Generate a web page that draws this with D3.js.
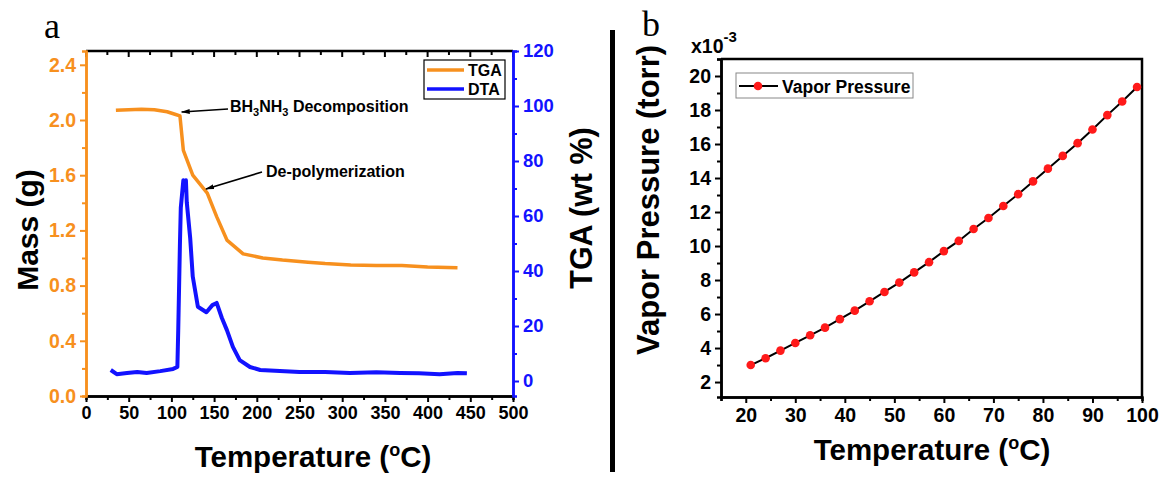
<!DOCTYPE html>
<html>
<head>
<meta charset="utf-8">
<script src="https://cdn.jsdelivr.net/npm/d3@7"></script>
<style>
  body { margin: 0; background: #fff; }
  text { font-family: "Liberation Sans", Arial, sans-serif; font-weight: bold; }
</style>
</head>
<body>
<div id="chart"></div>
<script>
// ---- data: panel a (TGA / DTA) ----
const tgaTemp = [35, 50, 65, 80, 95, 105, 110, 114, 125, 142, 153, 165, 184, 207, 230, 260, 280, 310, 340, 370, 400, 435];
const tgaMass = [2.07, 2.075, 2.078, 2.075, 2.06, 2.04, 2.03, 1.78, 1.6, 1.47, 1.3, 1.13, 1.03, 1.0, 0.985, 0.97, 0.96, 0.95, 0.945, 0.945, 0.935, 0.93];

const dtaTemp = [29, 36, 48, 60, 71, 87, 102, 107, 108, 110, 111, 114, 115.5, 117, 118, 122, 125, 131, 141, 148, 153, 159, 165, 172, 180, 192, 204, 227, 250, 280, 309, 340, 368, 390, 414, 435, 446];
const dtaVal  = [4.0, 2.5, 2.9, 3.3, 2.9, 3.6, 4.4, 5.1, 18.5, 50, 63, 73, 70, 73, 65, 52, 38, 27, 25, 27.6, 28.4, 23, 18.5, 12.4, 7.6, 5.1, 4.0, 3.6, 3.3, 3.3, 2.9, 3.2, 2.9, 2.8, 2.5, 2.9, 2.8];

const aXTicks = d3.range(0, 501, 50);
const aLeftTicks = [0, 0.4, 0.8, 1.2, 1.6, 2.0, 2.4];
const aRightTicks = [0, 20, 40, 60, 80, 100, 120];

// ---- data: panel b (vapor pressure, x10^-3 torr) ----
const vpTemp = [21, 24, 27, 30, 33, 36, 39, 42, 45, 48, 51, 54, 57, 60, 63, 66, 69, 72, 75, 78, 81, 84, 87, 90, 93, 96, 99];
const vpVal  = [3.0, 3.4, 3.85, 4.3, 4.75, 5.2, 5.7, 6.2, 6.75, 7.3, 7.85, 8.45, 9.05, 9.7, 10.3, 11.0, 11.65, 12.35, 13.05, 13.8, 14.55, 15.3, 16.05, 16.85, 17.7, 18.5, 19.35];
const bXTicks = [20, 30, 40, 50, 60, 70, 80, 90, 100];
const bYTicks = [2, 4, 6, 8, 10, 12, 14, 16, 18, 20];

const W = 1163, H = 477;
const orange = "#f7901e", blue = "#1212ff";

const svg = d3.select("#chart").append("svg")
    .attr("width", W)
    .attr("height", H);

// styling helper for axis groups
function styleAxis(g, color, fontSize) {
    g.select(".domain").attr("stroke", color).attr("stroke-width", 2.5);
    g.selectAll(".tick line").attr("stroke", color).attr("stroke-width", 2);
    g.selectAll(".tick text").attr("fill", color)
        .style("font-size", fontSize + "px")
        .style("font-family", "'Liberation Sans', Arial, sans-serif")
        .style("font-weight", "bold");
}

// ================= panel a =================
const ax = d3.scaleLinear().domain([0, 500]).range([86, 513]);
const ayL = d3.scaleLinear().domain([0, 2.5]).range([396, 51]);
const ayR = d3.scaleLinear().domain([-5.45, 120]).range([396, 51]);

// top frame with inward ticks
svg.append("line").attr("x1", 86).attr("x2", 513).attr("y1", 51).attr("y2", 51)
    .attr("stroke", "#000").attr("stroke-width", 2.5);
svg.append("g").selectAll("line")
    .data(d3.range(0, 501, 25))
    .join("line")
    .attr("x1", d => ax(d)).attr("x2", d => ax(d))
    .attr("y1", 51).attr("y2", d => d % 50 === 0 ? 57 : 55)
    .attr("stroke", "#000").attr("stroke-width", 2);

// bottom axis
const gxa = svg.append("g").attr("transform", "translate(0,396)");
gxa.call(d3.axisBottom(ax).tickValues(d3.range(25, 500, 50)).tickSize(4).tickFormat(""));
styleAxis(gxa, "#000", 18);
const gxa2 = svg.append("g").attr("transform", "translate(0,396)");
gxa2.call(d3.axisBottom(ax).tickValues(aXTicks).tickSize(6).tickPadding(4).tickSizeOuter(0));
styleAxis(gxa2, "#000", 18);

// left axis (orange)
const gyl = svg.append("g").attr("transform", "translate(86,0)");
gyl.call(d3.axisLeft(ayL).tickValues(d3.range(0.2, 2.5, 0.4)).tickSize(4).tickFormat(""));
styleAxis(gyl, orange, 19.5);
const gyl2 = svg.append("g").attr("transform", "translate(86,0)");
gyl2.call(d3.axisLeft(ayL).tickValues(aLeftTicks).tickSize(6).tickPadding(4).tickSizeOuter(0).tickFormat(d3.format(".1f")));
styleAxis(gyl2, orange, 19.5);

// right axis (blue)
const gyr = svg.append("g").attr("transform", "translate(513,0)");
gyr.call(d3.axisRight(ayR).tickValues(d3.range(10, 120, 20)).tickSize(4).tickFormat(""));
styleAxis(gyr, blue, 18.5);
const gyr2 = svg.append("g").attr("transform", "translate(513,0)");
gyr2.call(d3.axisRight(ayR).tickValues(aRightTicks).tickSize(6).tickPadding(4).tickSizeOuter(0));
styleAxis(gyr2, blue, 18.5);

// curves
const tgaLine = d3.line().x(d => ax(d[0])).y(d => ayL(d[1]));
svg.append("path")
    .datum(tgaTemp.map((t, i) => [t, tgaMass[i]]))
    .attr("d", tgaLine)
    .attr("fill", "none").attr("stroke", orange).attr("stroke-width", 3.5)
    .attr("stroke-linejoin", "round");

const dtaLine = d3.line().x(d => ax(d[0])).y(d => ayR(d[1]));
svg.append("path")
    .datum(dtaTemp.map((t, i) => [t, dtaVal[i]]))
    .attr("d", dtaLine)
    .attr("fill", "none").attr("stroke", blue).attr("stroke-width", 4)
    .attr("stroke-linejoin", "round");

// axis titles
svg.append("text").attr("transform", "translate(38,230) rotate(-90)")
    .attr("text-anchor", "middle").style("font-size", "30px").text("Mass (g)");
svg.append("text").attr("transform", "translate(592,208) rotate(-90)")
    .attr("text-anchor", "middle").style("font-size", "30.5px").text("TGA (wt %)");
const ta = svg.append("text").attr("x", 313).attr("y", 467)
    .attr("text-anchor", "middle").style("font-size", "29.5px");
ta.append("tspan").text("Temperature (");
ta.append("tspan").attr("dy", -11).style("font-size", "18px").text("o");
ta.append("tspan").attr("dy", 11).text("C)");

// legend a
svg.append("rect").attr("x", 424).attr("y", 60).attr("width", 81).attr("height", 39)
    .attr("fill", "#fff").attr("stroke", "#000").attr("stroke-width", 1.2);
[["TGA", orange, 70], ["DTA", blue, 89]].forEach(([lab, col, y]) => {
    svg.append("line").attr("x1", 427).attr("x2", 464).attr("y1", y).attr("y2", y)
        .attr("stroke", col).attr("stroke-width", 3.5);
    svg.append("text").attr("x", 468).attr("y", y + 6).style("font-size", "16px").text(lab);
});

// annotations
svg.append("defs").append("marker")
    .attr("id", "arr").attr("viewBox", "0 0 10 10").attr("refX", 9).attr("refY", 5)
    .attr("markerWidth", 9).attr("markerHeight", 7).attr("orient", "auto-start-reverse")
    .attr("markerUnits", "userSpaceOnUse")
    .attr("preserveAspectRatio", "none")
    .append("path").attr("d", "M0,1.5 L10,5 L0,8.5 Z").attr("fill", "#000");

svg.append("line").attr("x1", 228).attr("y1", 109).attr("x2", ax(112)).attr("y2", 112)
    .attr("stroke", "#000").attr("stroke-width", 1.6).attr("marker-end", "url(#arr)");
const an1 = svg.append("text").attr("x", 230).attr("y", 112).style("font-size", "16px");
an1.append("tspan").text("BH");
an1.append("tspan").attr("dy", 4).style("font-size", "11px").text("3");
an1.append("tspan").attr("dy", -4).text("NH");
an1.append("tspan").attr("dy", 4).style("font-size", "11px").text("3");
an1.append("tspan").attr("dy", -4).text(" Decomposition");

svg.append("line").attr("x1", 262).attr("y1", 172).attr("x2", 206).attr("y2", 189)
    .attr("stroke", "#000").attr("stroke-width", 1.6).attr("marker-end", "url(#arr)");
svg.append("text").attr("x", 266).attr("y", 177).style("font-size", "16px").text("De-polymerization");

svg.append("text").attr("x", 44).attr("y", 38)
    .style("font-family", "'Liberation Serif', 'Times New Roman', serif")
    .style("font-weight", "normal").style("font-size", "36px").text("a");

// divider
svg.append("rect").attr("x", 610).attr("y", 30).attr("width", 5).attr("height", 442).attr("fill", "#000");

// ================= panel b =================
const bx = d3.scaleLinear().domain([15, 100]).range([721, 1142]);
const by = d3.scaleLinear().domain([1.12, 21]).range([397, 59]);

// frame (top and right)
svg.append("path").attr("d", `M721,59 H1142 V397`).attr("fill", "none")
    .attr("stroke", "#000").attr("stroke-width", 2.5);

const gxb = svg.append("g").attr("transform", "translate(0,397)");
gxb.call(d3.axisBottom(bx).tickValues(d3.range(15, 100, 10)).tickSize(4).tickFormat(""));
styleAxis(gxb, "#000", 19.5);
const gxb2 = svg.append("g").attr("transform", "translate(0,397)");
gxb2.call(d3.axisBottom(bx).tickValues(bXTicks).tickSize(6).tickPadding(5).tickSizeOuter(0));
styleAxis(gxb2, "#000", 19.5);

const gyb = svg.append("g").attr("transform", "translate(721,0)");
gyb.call(d3.axisLeft(by).tickValues(d3.range(3, 22, 2)).tickSize(4).tickFormat(""));
styleAxis(gyb, "#000", 19.5);
const gyb2 = svg.append("g").attr("transform", "translate(721,0)");
gyb2.call(d3.axisLeft(by).tickValues(bYTicks).tickSize(6).tickPadding(4).tickSizeOuter(0));
styleAxis(gyb2, "#000", 19.5);

const vpLine = d3.line().x(d => bx(d[0])).y(d => by(d[1]));
const vpData = vpTemp.map((t, i) => [t, vpVal[i]]);
svg.append("path").datum(vpData).attr("d", vpLine)
    .attr("fill", "none").attr("stroke", "#000").attr("stroke-width", 2);
svg.append("g").selectAll("circle").data(vpData).join("circle")
    .attr("cx", d => bx(d[0])).attr("cy", d => by(d[1])).attr("r", 4.3)
    .attr("fill", "#ff1a1a");

// exponent label
const ex = svg.append("text").attr("x", 691).attr("y", 53).style("font-size", "19.5px");
ex.append("tspan").text("x10");
ex.append("tspan").attr("dy", -11).style("font-size", "15px").text("-3");

// legend b
svg.append("rect").attr("x", 736).attr("y", 73).attr("width", 177).attr("height", 25)
    .attr("fill", "#fff").attr("stroke", "#888").attr("stroke-width", 1);
svg.append("line").attr("x1", 739).attr("x2", 778).attr("y1", 86).attr("y2", 86)
    .attr("stroke", "#000").attr("stroke-width", 2);
svg.append("circle").attr("cx", 758).attr("cy", 86).attr("r", 4.3).attr("fill", "#ff1a1a");
svg.append("text").attr("x", 782).attr("y", 92.5).style("font-size", "17.5px").text("Vapor Pressure");

// axis titles
svg.append("text").attr("transform", "translate(659,200) rotate(-90)")
    .attr("text-anchor", "middle").style("font-size", "31px").text("Vapor Pressure (torr)");
const tb = svg.append("text").attr("x", 932).attr("y", 460)
    .attr("text-anchor", "middle").style("font-size", "29.5px");
tb.append("tspan").text("Temperature (");
tb.append("tspan").attr("dy", -11).style("font-size", "18px").text("o");
tb.append("tspan").attr("dy", 11).text("C)");

svg.append("text").attr("x", 642).attr("y", 36)
    .style("font-family", "'Liberation Serif', 'Times New Roman', serif")
    .style("font-weight", "normal").style("font-size", "36px").text("b");
</script>
</body>
</html>
